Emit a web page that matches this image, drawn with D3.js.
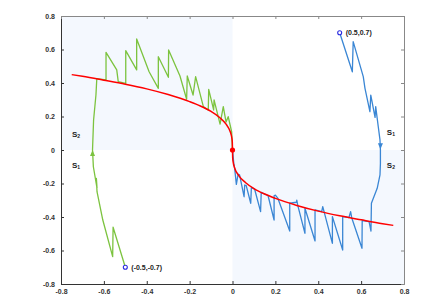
<!DOCTYPE html>
<html>
<head>
<meta charset="utf-8">
<script src="https://cdn.jsdelivr.net/npm/d3@7"></script>
<style>
  body { margin: 0; background: #fff; }
  text { font-family: "Liberation Sans", Arial, sans-serif; }
</style>
</head>
<body>
<script>
// tick values and their labels
var tickValues = [-0.8, -0.6, -0.4, -0.2, 0, 0.2, 0.4, 0.6, 0.8];
var tickLabels = ["-0.8", "-0.6", "-0.4", "-0.2", "0", "0.2", "0.4", "0.6", "0.8"];

// red switching curve
var redX = [-0.75, -0.7, -0.6, -0.5, -0.4, -0.3, -0.2, -0.15, -0.1, -0.06, -0.03, -0.01, -0.003, -0.001, 0,
            0.001, 0.003, 0.01, 0.03, 0.06, 0.1, 0.15, 0.2, 0.3, 0.4, 0.5, 0.6, 0.7, 0.75];
var redY = [0.45, 0.44, 0.417, 0.393, 0.365, 0.331, 0.289, 0.263, 0.23, 0.194, 0.154, 0.107, 0.071, 0.05, 0,
            -0.05, -0.071, -0.107, -0.154, -0.194, -0.23, -0.263, -0.289, -0.331, -0.365, -0.393, -0.417, -0.44, -0.45];

// green trajectory from (-0.5,-0.7)
var greenX = [-0.5, -0.557, -0.559, -0.605, -0.632, -0.635, -0.632, -0.649, -0.653, -0.648, -0.637, -0.633,
              -0.59, -0.59, -0.54, -0.533, -0.498, -0.498, -0.447, -0.447, -0.389, -0.346, -0.346, -0.299,
              -0.298, -0.245, -0.214, -0.211, -0.184, -0.172, -0.136, -0.113, -0.111, -0.088, -0.086, -0.058,
              -0.043, -0.03, -0.02, -0.004, 0];
var greenY = [-0.7, -0.461, -0.637, -0.418, -0.249, -0.169, -0.227, -0.1, 0, 0.179, 0.328, 0.426,
              0.418, 0.583, 0.478, 0.408, 0.398, 0.593, 0.478, 0.663, 0.467, 0.368, 0.557, 0.434,
              0.597, 0.442, 0.303, 0.442, 0.328, 0.438, 0.259, 0.239, 0.362, 0.239, 0.299, 0.155,
              0.259, 0.167, 0.199, 0.109, 0];

// blue trajectory from (0.5,0.7)
var blueX = [0.5, 0.559, 0.563, 0.61, 0.618, 0.641, 0.645, 0.665, 0.668, 0.68, 0.688, 0.69, 0.69, 0.688,
             0.675, 0.648, 0.646, 0.637, 0.605, 0.604, 0.556, 0.551, 0.543, 0.514, 0.514, 0.466, 0.466,
             0.421, 0.416, 0.385, 0.385, 0.338, 0.338, 0.305, 0.3, 0.298, 0.267, 0.267, 0.212, 0.2, 0.194,
             0.194, 0.166, 0.134, 0.131, 0.103, 0.088, 0.085, 0.064, 0.057, 0.054, 0.033, 0.026, 0.018,
             0.01, 0.006, 0];
var blueY = [0.7, 0.467, 0.647, 0.438, 0.368, 0.229, 0.328, 0.195, 0.259, 0.139, 0.06, 0, -0.08, -0.149,
             -0.229, -0.318, -0.484, -0.428, -0.422, -0.587, -0.404, -0.368, -0.404, -0.398, -0.597, -0.398, -0.557,
             -0.338, -0.368, -0.358, -0.543, -0.348, -0.497, -0.334, -0.3, -0.312, -0.318, -0.484, -0.289, -0.269, -0.273,
             -0.418, -0.273, -0.253, -0.368, -0.233, -0.225, -0.318, -0.213, -0.209, -0.279, -0.149, -0.145, -0.205,
             -0.109, -0.08, 0];

// start points and their labels
var startX = [0.5, -0.5];
var startY = [0.7, -0.7];
var startLabels = ["(0.5,0.7)", "(-0.5,-0.7)"];

// direction arrows (tip point, +1 = up, -1 = down)
var arrowX = [-0.653, 0.69];
var arrowY = [0.0, 0.004];
var arrowDir = [1, -1];

// region labels
var regionNames = ["2", "1", "1", "2"];
var regionX = [-0.749, -0.749, 0.72, 0.72];
var regionY = [0.078, -0.107, 0.09, -0.107];

var width = 440, height = 304;
var margin = { top: 16, right: 36, bottom: 20, left: 61 };

var svg = d3.select("body").append("svg")
    .attr("width", width)
    .attr("height", height);

var x = d3.scaleLinear().domain([-0.8, 0.8]).range([margin.left, width - margin.right]);
var y = d3.scaleLinear().domain([-0.8, 0.8]).range([height - margin.bottom, margin.top]);

// shaded quadrants
svg.append("rect")
    .attr("x", x(-0.8)).attr("y", y(0.8))
    .attr("width", x(0) - x(-0.8)).attr("height", y(0) - y(0.8))
    .attr("fill", "#f4f8fe");
svg.append("rect")
    .attr("x", x(0)).attr("y", y(0))
    .attr("width", x(0.8) - x(0)).attr("height", y(-0.8) - y(0))
    .attr("fill", "#f4f8fe");

// axes
var fmt = function(d) { return tickLabels[tickValues.indexOf(d)]; };

var xAxis = svg.append("g")
    .attr("transform", "translate(0," + y(-0.8) + ")")
    .call(d3.axisBottom(x).tickValues(tickValues).tickFormat(fmt).tickSizeInner(-3).tickSizeOuter(0).tickPadding(5));
var yAxis = svg.append("g")
    .attr("transform", "translate(" + x(-0.8) + ",0)")
    .call(d3.axisLeft(y).tickValues(tickValues).tickFormat(fmt).tickSizeInner(-3).tickSizeOuter(0).tickPadding(6));
var topAxis = svg.append("g")
    .attr("transform", "translate(0," + y(0.8) + ")")
    .call(d3.axisTop(x).tickValues(tickValues).tickFormat("").tickSizeInner(-3).tickSizeOuter(0));
var rightAxis = svg.append("g")
    .attr("transform", "translate(" + x(0.8) + ",0)")
    .call(d3.axisRight(y).tickValues(tickValues).tickFormat("").tickSizeInner(-3).tickSizeOuter(0));

[xAxis, yAxis].forEach(function(g) {
  g.selectAll("path, line").attr("stroke", "#333");
  g.selectAll("text").attr("font-size", "7px").attr("font-weight", "bold").attr("fill", "#333");
});
[topAxis, rightAxis].forEach(function(g) {
  g.selectAll("path, line").attr("stroke", "#888");
});

// line drawing
var line = d3.line()
    .x(function(d) { return x(d[0]); })
    .y(function(d) { return y(d[1]); });

function pairs(xs, ys) {
  return xs.map(function(v, i) { return [v, ys[i]]; });
}

svg.append("path")
    .datum(pairs(greenX, greenY))
    .attr("d", line)
    .attr("fill", "none")
    .attr("stroke", "#7cc33f")
    .attr("stroke-width", 1.3)
    .attr("stroke-linejoin", "round");

svg.append("path")
    .datum(pairs(blueX, blueY))
    .attr("d", line)
    .attr("fill", "none")
    .attr("stroke", "#3a86d4")
    .attr("stroke-width", 1.3)
    .attr("stroke-linejoin", "round");

svg.append("path")
    .datum(pairs(redX, redY))
    .attr("d", line.curve(d3.curveMonotoneX))
    .attr("fill", "none")
    .attr("stroke", "#ff0000")
    .attr("stroke-width", 1.5);

// arrows
var arrowColors = ["#7cc33f", "#3a86d4"];
svg.selectAll(".arrow")
    .data(arrowX)
    .enter().append("path")
    .attr("class", "arrow")
    .attr("d", function(d, i) {
      var tx = x(d), ty = y(arrowY[i]), s = arrowDir[i];
      return "M" + tx + "," + ty + "L" + (tx - 2.5) + "," + (ty + 6 * s) + "L" + (tx + 2.5) + "," + (ty + 6 * s) + "Z";
    })
    .attr("fill", function(d, i) { return arrowColors[i]; });

// origin dot
svg.append("circle")
    .attr("cx", x(0)).attr("cy", y(0)).attr("r", 2.6)
    .attr("fill", "#ff0000");

// start points
svg.selectAll(".start")
    .data(startX)
    .enter().append("circle")
    .attr("class", "start")
    .attr("cx", function(d) { return x(d); })
    .attr("cy", function(d, i) { return y(startY[i]); })
    .attr("r", 2)
    .attr("fill", "#fff")
    .attr("stroke", "#2a2ae0")
    .attr("stroke-width", 1.1);

svg.selectAll(".startLabel")
    .data(startLabels)
    .enter().append("text")
    .attr("class", "startLabel")
    .attr("x", function(d, i) { return x(startX[i]) + 6; })
    .attr("y", function(d, i) { return y(startY[i]) + 2.5; })
    .attr("font-size", "7px")
    .attr("font-weight", "bold")
    .attr("fill", "#222")
    .text(function(d) { return d; });

// region labels S1 / S2
var reg = svg.selectAll(".region")
    .data(regionNames)
    .enter().append("text")
    .attr("class", "region")
    .attr("x", function(d, i) { return x(regionX[i]); })
    .attr("y", function(d, i) { return y(regionY[i]); })
    .attr("font-family", "Liberation Serif, serif")
    .attr("font-weight", "bold")
    .attr("font-size", "8px")
    .attr("fill", "#222");
reg.append("tspan").text("S");
reg.append("tspan")
    .attr("font-size", "5px")
    .attr("dy", 1.5)
    .text(function(d) { return d; });
</script>
</body>
</html>
